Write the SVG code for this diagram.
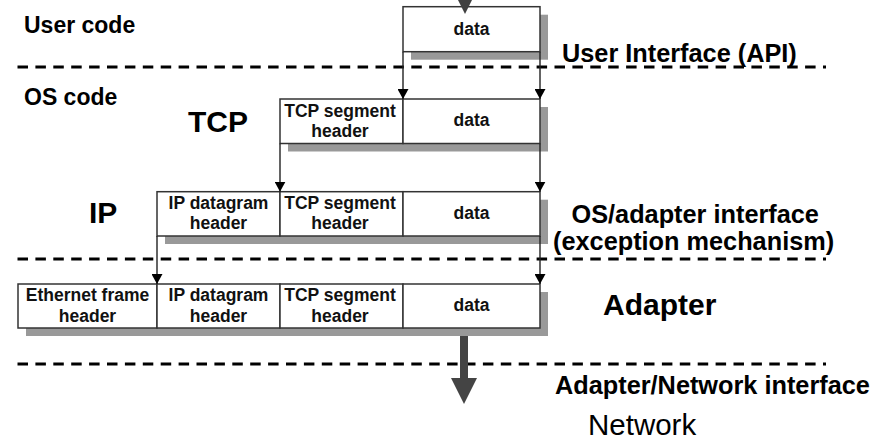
<svg xmlns="http://www.w3.org/2000/svg" width="891" height="442" viewBox="0 0 891 442">
<defs>
<style>
.box{fill:#fff;stroke:#333;stroke-width:1.5}
.shadow{fill:#999}
.bt{font-family:"Liberation Sans",Arial,sans-serif;font-weight:bold;font-size:17.5px;fill:#111;text-anchor:middle}
.lbl{font-family:"Liberation Sans",Arial,sans-serif;font-weight:bold;fill:#000}
.dash{stroke:#000;stroke-width:3;stroke-dasharray:10.5 7.4;fill:none}
.conn{stroke:#222;stroke-width:1.4;fill:none;marker-end:url(#ah)}
</style>
<marker id="ah" viewBox="0 0 10 11" refX="10" refY="5.5" markerWidth="10" markerHeight="11" markerUnits="userSpaceOnUse" orient="auto">
<path d="M0,0 L10,5.5 L0,11 Z" fill="#000"/>
</marker>
</defs>

<g id="layers">
<text class="lbl" x="24" y="33" font-size="23">User code</text>
<text class="lbl" x="24" y="105" font-size="23">OS code</text>
<text class="lbl" x="188" y="131.5" font-size="30">TCP</text>
<text class="lbl" x="89" y="222.5" font-size="30">IP</text>
<text class="lbl" x="603" y="315" font-size="30">Adapter</text>
</g>

<g id="separators">
<line class="dash" x1="17.5" y1="67" x2="826" y2="67"/>
<line class="dash" x1="17.5" y1="259" x2="826" y2="259"/>
<line class="dash" x1="17.5" y1="364" x2="826" y2="364"/>
<text class="lbl" x="562" y="61.5" font-size="25.3">User Interface (API)</text>
<text class="lbl" x="571.5" y="223.3" font-size="25.3">OS/adapter interface</text>
<text class="lbl" x="553" y="250" font-size="25.3">(exception mechanism)</text>
<text class="lbl" x="555" y="393.5" font-size="25.3">Adapter/Network interface</text>
</g>

<g id="user-data">
<rect class="shadow" x="411" y="14.7" width="137" height="45"/>
<rect class="box" x="403" y="6.7" width="137" height="45"/>
<text class="bt" x="471.5" y="35">data</text>
</g>

<g id="tcp-segment">
<rect class="shadow" x="288" y="107" width="260" height="44.5"/>
<rect class="box" x="280" y="99" width="123" height="44.5"/>
<rect class="box" x="403" y="99" width="137" height="44.5"/>
<text class="bt" x="340" y="116.5">TCP segment</text>
<text class="bt" x="340" y="136.5">header</text>
<text class="bt" x="471.5" y="126">data</text>
</g>

<g id="ip-datagram">
<rect class="shadow" x="165" y="199.7" width="383" height="44.3"/>
<rect class="box" x="157" y="191.7" width="123" height="44.3"/>
<rect class="box" x="280" y="191.7" width="123" height="44.3"/>
<rect class="box" x="403" y="191.7" width="137" height="44.3"/>
<text class="bt" x="218.5" y="208.5">IP datagram</text>
<text class="bt" x="218.5" y="229.3">header</text>
<text class="bt" x="340" y="208.5">TCP segment</text>
<text class="bt" x="340" y="229.3">header</text>
<text class="bt" x="471.5" y="218.5">data</text>
</g>

<g id="ethernet-frame">
<rect class="shadow" x="26" y="292" width="522" height="44"/>
<rect class="box" x="18" y="284" width="139" height="44"/>
<rect class="box" x="157" y="284" width="123" height="44"/>
<rect class="box" x="280" y="284" width="123" height="44"/>
<rect class="box" x="403" y="284" width="137" height="44"/>
<text class="bt" x="87.5" y="301">Ethernet frame</text>
<text class="bt" x="87.5" y="321.5">header</text>
<text class="bt" x="218.5" y="301">IP datagram</text>
<text class="bt" x="218.5" y="321.5">header</text>
<text class="bt" x="340" y="301">TCP segment</text>
<text class="bt" x="340" y="321.5">header</text>
<text class="bt" x="471.5" y="311">data</text>
</g>

<g id="network">
<text x="588" y="435" font-family="Liberation Sans, Arial, sans-serif" font-size="29.5" fill="#000">Network</text>
</g>

<g id="connectors">
<path d="M458,0 L472,0 L465,14 Z" fill="#404040"/>
<line class="conn" x1="403" y1="51.7" x2="403" y2="99"/>
<line class="conn" x1="540" y1="51.7" x2="540" y2="99"/>
<line class="conn" x1="280" y1="143.5" x2="280" y2="191.7"/>
<line class="conn" x1="540" y1="143.5" x2="540" y2="191.7"/>
<line class="conn" x1="157" y1="236" x2="157" y2="284"/>
<line class="conn" x1="540" y1="236" x2="540" y2="284"/>
<path d="M460,336 L468,336 L468,378 L477,378 L464,404 L451,378 L460,378 Z" fill="#444"/>
</g>
</svg>
